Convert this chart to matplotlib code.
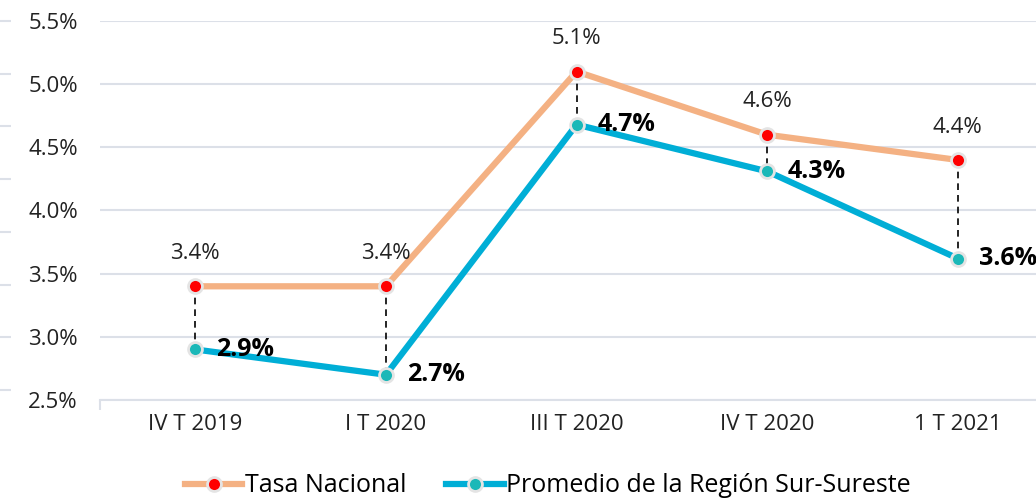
import matplotlib.pyplot as plt
from matplotlib.lines import Line2D

plt.rcParams['font.family'] = ['Open Sans', 'DejaVu Sans']

# Datos
trimestres = ['IV T 2019', 'I T 2020', 'III T 2020', 'IV T 2020', '1 T 2021']
tasa_nacional = [3.4, 3.4, 5.1, 4.6, 4.4]
region_sur = [2.9, 2.7, 4.68, 4.31, 3.62]
etiquetas_nacional = ['3.4%', '3.4%', '5.1%', '4.6%', '4.4%']
etiquetas_region = ['2.9%', '2.7%', '4.7%', '4.3%', '3.6%']
yticks = [2.5, 3.0, 3.5, 4.0, 4.5, 5.0, 5.5]

naranja = '#F4B183'
azul = '#00AED6'
gris = '#DCE0E8'

fig = plt.figure(figsize=(10.36, 5.01), dpi=100)

# marcas sueltas del borde izquierdo (eje recortado)
ax0 = fig.add_axes([0.0, 1 - 390 / 501, 0.001, 369 / 501])
ax0.set_ylim(0, 7)
ax0.set_yticks(range(8))
ax0.set_yticklabels([])
ax0.tick_params(axis='y', length=8, width=1.5, color=gris, direction='in')
ax0.set_xticks([])
for s in ax0.spines.values():
    s.set_visible(False)

ax = fig.add_axes([100 / 1036, 1 - 400 / 501, 936 / 1036, 379 / 501])
x = list(range(len(trimestres)))

ax.set_ylim(2.5, 5.5)
ax.set_xlim(-0.5, 4.41)
ax.set_yticks(yticks)
ax.set_yticklabels([f'{v:.1f}%' for v in yticks], fontsize=16, color='#222222')
ax.tick_params(axis='y', length=0, pad=16)
ax.set_xticks(x)
ax.set_xticklabels(trimestres, fontsize=16, color='#222222')
ax.tick_params(axis='x', length=0, pad=10)
ax.set_xticks([-0.5], minor=True)
ax.tick_params(axis='x', which='minor', length=7, width=1.5, color=gris)
ax.grid(axis='y', color=gris, linewidth=1.5)
ax.set_axisbelow(True)
for s in ['top', 'right', 'left']:
    ax.spines[s].set_visible(False)
ax.spines['bottom'].set_color(gris)
ax.spines['bottom'].set_linewidth(1.5)

for xi, a, b in zip(x, tasa_nacional, region_sur):
    ax.plot([xi, xi], [a, b], color='black', linestyle=(0, (4, 3)), linewidth=1.2, zorder=2)

estilo_marca = dict(marker='o', markersize=10, markeredgecolor='#E4E4E4', markeredgewidth=2)
ax.plot(x, tasa_nacional, color=naranja, linewidth=4.5, markerfacecolor='#FF0000',
        zorder=3, clip_on=False, **estilo_marca)
ax.plot(x, region_sur, color=azul, linewidth=4.5, markerfacecolor='#1BB8B8',
        zorder=3, clip_on=False, **estilo_marca)

for xi, v, t in zip(x, tasa_nacional, etiquetas_nacional):
    ax.annotate(t, (xi, v), xytext=(0, 16), textcoords='offset points',
                ha='center', va='bottom', fontsize=16, color='#222222')
for xi, v, t in zip(x, region_sur, etiquetas_region):
    ax.annotate(t, (xi, v), xytext=(15, 0), textcoords='offset points',
                ha='left', va='center', fontsize=18, fontweight='bold', color='black')

h1 = Line2D([], [], color=naranja, linewidth=4.5, markerfacecolor='#FF0000', **estilo_marca)
h2 = Line2D([], [], color=azul, linewidth=4.5, markerfacecolor='#1BB8B8', **estilo_marca)
fig.legend([h1, h2], ['Tasa Nacional', 'Promedio de la Región Sur-Sureste'],
           loc='center', bbox_to_anchor=(548 / 1036, 1 - 486 / 501), ncol=2,
           frameon=False, fontsize=18, handlelength=2.3, handletextpad=0.1,
           columnspacing=1.6)

fig.savefig('out.png', dpi=100)
